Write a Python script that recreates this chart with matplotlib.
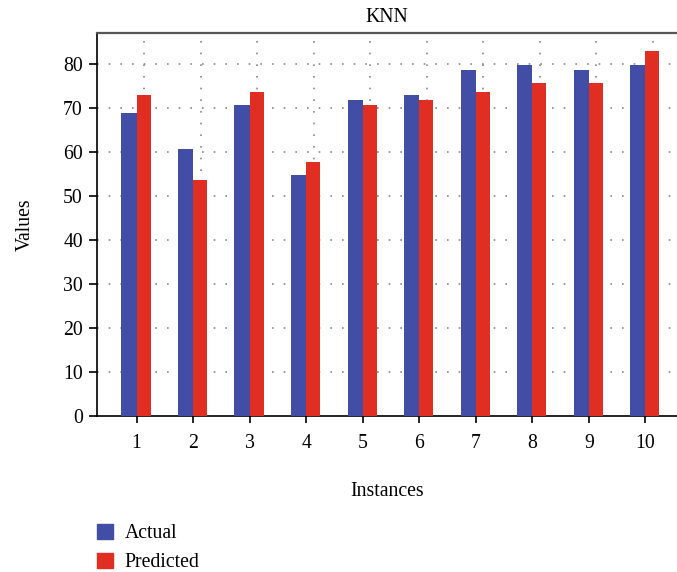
import matplotlib
matplotlib.use("Agg")
import matplotlib.pyplot as plt
import numpy as np
from matplotlib.patches import Patch

instances = [1, 2, 3, 4, 5, 6, 7, 8, 9, 10]
actual = [68.8, 60.6, 70.6, 54.7, 71.8, 72.9, 78.5, 79.7, 78.5, 79.7]
predicted = [72.9, 53.5, 73.6, 57.7, 70.6, 71.8, 73.6, 75.7, 75.7, 82.9]
yticks = [0, 10, 20, 30, 40, 50, 60, 70, 80]

plt.rcParams['font.family'] = ['Liberation Serif', 'DejaVu Serif']

BLUE = '#424EA5'
RED = '#E02E22'
FS = 14.2

fig = plt.figure(figsize=(6.77, 5.72), dpi=100)
ax = fig.add_axes([0.1428, 0.2727, 0.8572, 0.6701])

x = np.array(instances, dtype=float)
w = 0.27
ax.bar(x - w / 2, actual, width=w, color=BLUE, zorder=3, label='Actual')
ax.bar(x + 0.25 / 2, predicted, width=0.25, color=RED, zorder=3, label='Predicted')

ax.set_xlim(0.292, 10.56)
ax.set_ylim(0, 87)
ax.set_xticks(instances)
ax.set_xticklabels([str(i) for i in instances])
ax.set_yticks(yticks)

# grid
for yv in yticks[1:]:
    ax.axhline(yv, color='#888888', linestyle=(0, (1, 6)), lw=1.2, zorder=1)
for xv in x:
    ax.axvline(xv + 0.13, color='#888888', linestyle=(0, (1, 6)), lw=1.2, zorder=1)

ax.spines['right'].set_visible(False)
ax.spines['top'].set_color('#555555')
ax.spines['top'].set_linewidth(1.6)
ax.spines['left'].set_linewidth(1.2)
ax.spines['bottom'].set_linewidth(1.2)

ax.tick_params(axis='y', direction='out', length=6, width=1.2, labelsize=FS, pad=4)
ax.tick_params(axis='x', direction='out', length=5, width=1.2, labelsize=FS, pad=8)

ax.set_title('KNN', fontsize=FS, pad=8)
ax.set_ylabel('Values', fontsize=FS, labelpad=20)
ax.set_xlabel('Instances', fontsize=FS, labelpad=21)

handles = [Patch(color=BLUE, label='Actual'), Patch(color=RED, label='Predicted')]
fig.legend(handles=handles, loc='upper left', bbox_to_anchor=(0.132, 0.098),
           frameon=False, fontsize=FS, handlelength=0.8, handleheight=0.8,
           handletextpad=0.6, labelspacing=0.5, borderaxespad=0)

fig.savefig('out.png', dpi=100)
